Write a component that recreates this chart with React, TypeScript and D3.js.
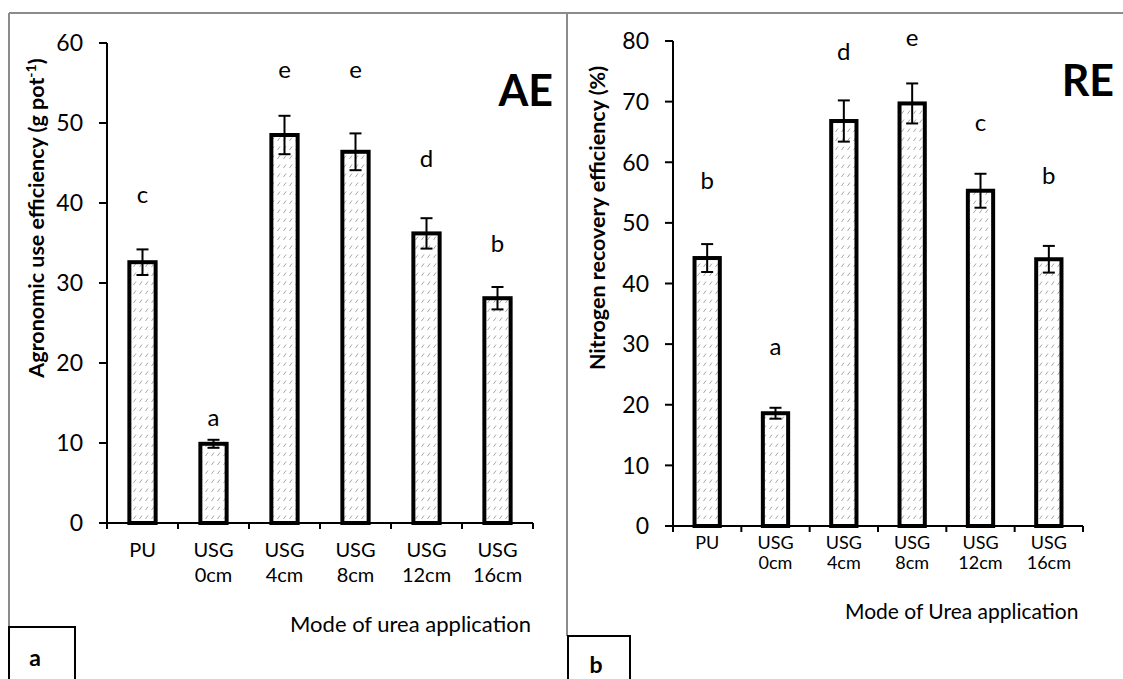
import React from 'react';
import * as d3 from 'd3';

// categories (two-line tick labels)
const categories = ['PU', 'USG 0cm', 'USG 4cm', 'USG 8cm', 'USG 12cm', 'USG 16cm'];

// panel a: agronomic use efficiency
const aeValues = [32.6, 9.9, 48.5, 46.4, 36.2, 28.1];
const aeErrors = [1.6, 0.5, 2.4, 2.3, 1.9, 1.4];
const aeLetters = ['c', 'a', 'e', 'e', 'd', 'b'];
const aeLetterAt = [41, 13.1, 56.6, 56.6, 45.4, 34.8];
const aeTicks = [0, 10, 20, 30, 40, 50, 60];

// panel b: nitrogen recovery efficiency
const reValues = [44.2, 18.6, 66.8, 69.7, 55.3, 44.0];
const reErrors = [2.3, 0.9, 3.4, 3.3, 2.8, 2.2];
const reLetters = ['b', 'a', 'd', 'e', 'c', 'b'];
const reLetterAt = [56.8, 29.4, 78.2, 80.5, 66.5, 57.6];
const reTicks = [0, 10, 20, 30, 40, 50, 60, 70, 80];

const FONT = 'Lato, "Open Sans", sans-serif';

type PanelProps = {
  values: number[];
  errors: number[];
  letters: string[];
  letterAt: number[];
  ticks: number[];
  x0: number;
  x1: number;
  yTop: number;
  yBottom: number;
  catSize: number;
  catY: number;
  catGap: number;
  tag: string;
  tagX: number;
  tagY: number;
  title: React.ReactNode;
  titleX: number;
  titleY: number;
  xTitle: string;
  xTitleX: number;
  xTitleY: number;
  xTitleSize: number;
};

function Panel(p: PanelProps) {
  const yMax = p.ticks[p.ticks.length - 1];
  const x = d3.scaleBand<string>().domain(categories).range([p.x0, p.x1]).padding(0);
  const y = d3.scaleLinear().domain([0, yMax]).range([p.yBottom, p.yTop]);
  const bw = x.bandwidth() * 0.37;
  const bounds = categories.map((c) => x(c) as number).concat([p.x1]);

  return (
    <g>
      {/* bars */}
      {categories.map((c, i) => {
        const cx = (x(c) as number) + x.bandwidth() / 2;
        return (
          <g key={c}>
            <rect x={cx - bw / 2} y={y(p.values[i])} width={bw} height={y(0) - y(p.values[i])}
              fill="url(#hatch)" stroke="#000" strokeWidth={4} />
            <line x1={cx} x2={cx} y1={y(p.values[i] + p.errors[i])} y2={y(p.values[i] - p.errors[i])}
              stroke="#000" strokeWidth={2} />
            <line x1={cx - 6} x2={cx + 6} y1={y(p.values[i] + p.errors[i])} y2={y(p.values[i] + p.errors[i])}
              stroke="#000" strokeWidth={2} />
            <line x1={cx - 6} x2={cx + 6} y1={y(p.values[i] - p.errors[i])} y2={y(p.values[i] - p.errors[i])}
              stroke="#000" strokeWidth={2} />
            <text x={cx} y={y(p.letterAt[i])} dy="0.32em" textAnchor="middle" fontSize={24} fontFamily={FONT}>
              {p.letters[i]}
            </text>
            {c.split(' ').map((w, k) => (
              <text key={k} x={cx} y={p.catY + k * p.catGap} textAnchor="middle"
                fontSize={p.catSize} fontFamily={FONT}>{w}</text>
            ))}
          </g>
        );
      })}

      {/* y axis */}
      <line x1={p.x0} x2={p.x0} y1={y(yMax)} y2={y(0)} stroke="#000" strokeWidth={2} />
      {p.ticks.map((t) => (
        <g key={t}>
          <line x1={p.x0 - 8} x2={p.x0} y1={y(t)} y2={y(t)} stroke="#000" strokeWidth={2} />
          <text x={p.x0 - 24} y={y(t)} dy="0.36em" textAnchor="end" fontSize={23} fontFamily={FONT}>{t}</text>
        </g>
      ))}

      {/* x axis */}
      <line x1={p.x0} x2={p.x1} y1={y(0)} y2={y(0)} stroke="#000" strokeWidth={2} />
      {bounds.map((b, i) => (
        <line key={i} x1={b} x2={b} y1={y(0)} y2={y(0) + 6} stroke="#000" strokeWidth={2} />
      ))}

      <text x={p.tagX} y={p.tagY} textAnchor="end" fontSize={43} fontWeight="bold" fontFamily={FONT}>{p.tag}</text>
      <text transform={`translate(${p.titleX},${p.titleY}) rotate(-90)`} textAnchor="middle"
        fontSize={21.5} fontWeight="bold" fontFamily={FONT}>{p.title}</text>
      <text x={p.xTitleX} y={p.xTitleY} fontSize={p.xTitleSize} fontFamily={FONT}>{p.xTitle}</text>
    </g>
  );
}

export default function App() {
  return (
    <div style={{ position: 'absolute', left: 0, top: 0 }}>
      <svg width={1123} height={679} style={{ display: 'block', background: '#fff' }}>
        <defs>
          <pattern id="hatch" width={6} height={9} patternUnits="userSpaceOnUse">
            <rect width={6} height={9} fill="#fff" />
            <line x1={1.5} y1={6} x2={4} y2={2.5} stroke="#a8a8a8" strokeWidth={1} />
          </pattern>
        </defs>

        {/* frame */}
        <line x1={9} x2={1123} y1={13} y2={13} stroke="#8c8c8c" strokeWidth={2} />
        <line x1={9} x2={9} y1={13} y2={627} stroke="#8c8c8c" strokeWidth={2} />
        <line x1={567} x2={567} y1={13} y2={636} stroke="#8c8c8c" strokeWidth={2} />

        <Panel values={aeValues} errors={aeErrors} letters={aeLetters} letterAt={aeLetterAt} ticks={aeTicks}
          x0={107} x1={533} yTop={43} yBottom={523} catSize={20} catY={557} catGap={25}
          tag="AE" tagX={553} tagY={106}
          title={<>Agronomic use efficiency (g pot<tspan fontSize={14} dy={-8}>-1</tspan><tspan dy={8}>)</tspan></>}
          titleX={44} titleY={218}
          xTitle="Mode of urea application" xTitleX={290} xTitleY={632} xTitleSize={22} />

        <Panel values={reValues} errors={reErrors} letters={reLetters} letterAt={reLetterAt} ticks={reTicks}
          x0={673} x1={1083} yTop={41} yBottom={526} catSize={18} catY={549} catGap={20}
          tag="RE" tagX={1114} tagY={96}
          title="Nitrogen recovery efficiency (%)" titleX={605} titleY={218}
          xTitle="Mode of Urea application" xTitleX={845} xTitleY={619} xTitleSize={21} />

        {/* panel tags */}
        <rect x={9} y={627} width={66} height={60} fill="#fff" stroke="#000" strokeWidth={2} />
        <text x={35} y={666} textAnchor="middle" fontSize={23} fontWeight="bold" fontFamily={FONT}>a</text>
        <rect x={568} y={636} width={62} height={60} fill="#fff" stroke="#000" strokeWidth={2} />
        <text x={596} y={673} textAnchor="middle" fontSize={23} fontWeight="bold" fontFamily={FONT}>b</text>
      </svg>
    </div>
  );
}
